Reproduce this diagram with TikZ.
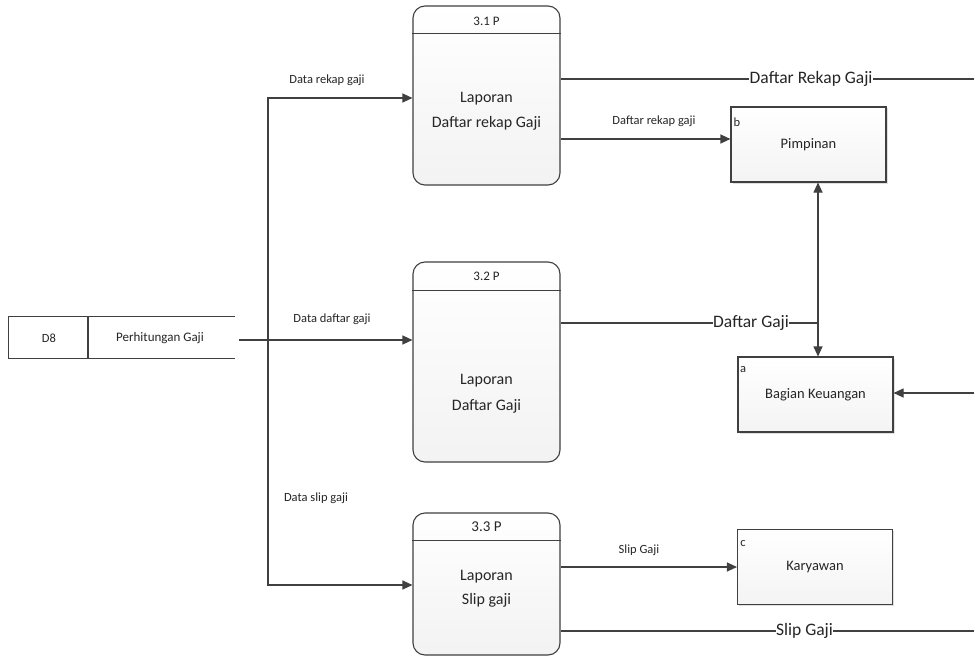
\documentclass[tikz,border=0pt]{standalone}
\usepackage{fontspec}
\setmainfont{Carlito}
\usetikzlibrary{arrows.meta,shadows}
\definecolor{ink}{HTML}{404040}
\definecolor{txt}{HTML}{262626}
\begin{document}
\begin{tikzpicture}[x=1pt,y=-1pt,
  every node/.style={text=txt},
  wire/.style={draw=ink, line width=1.1pt},
  flow/.style={wire, -{Triangle[length=10pt,width=9pt]}},
  proc/.style={draw=ink, line width=1.1pt, rounded corners=12pt,
    minimum width=147pt, minimum height=#1, inner sep=0pt,
    top color=white, bottom color=gray!10},
  ent/.style={draw=ink, line width=1.1pt, minimum width=155pt,
    minimum height=75pt, inner sep=0pt, top color=white, bottom color=gray!9,
    drop shadow={opacity=0.25, shadow xshift=1.5pt, shadow yshift=-1.5pt}},
  ptxt/.style={align=center, font=\fontsize{16}{#1}\selectfont},
  pid/.style={font=\fontsize{13}{14}\selectfont},
  etxt/.style={font=\fontsize{14.5}{16}\selectfont},
  tag/.style={font=\fontsize{12.5}{14}\selectfont},
  small/.style={font=\fontsize{12.5}{14}\selectfont},
  big/.style={font=\fontsize{17.5}{19}\selectfont, fill=white, inner sep=0.5pt},
]
\useasboundingbox[fill=white] (0,0) rectangle (974,658);

% processes
\node[proc=179pt] (p31) at (486.5,95.5) {};
\node[proc=200pt] (p32) at (486.5,362) {};
\node[proc=142pt] (p33) at (486.5,584) {};
\draw[wire] ([yshift=-28pt]p31.north west) -- ([yshift=-28pt]p31.north east);
\draw[wire] ([yshift=-29pt]p32.north west) -- ([yshift=-29pt]p32.north east);
\draw[wire] ([yshift=-28pt]p33.north west) -- ([yshift=-28pt]p33.north east);
\node[pid] (h31) at (486.5,21) {3.1 P};
\node[pid] (h32) at (486.5,276) {3.2 P};
\node[pid, font=\fontsize{15}{16}\selectfont] (h33) at (486.5,527) {3.3 P};
\node[ptxt=25pt] (t31) at (486.5,111) {Laporan\\Daftar rekap Gaji};
\node[ptxt=26pt] (t32) at (486.5,394) {Laporan\\Daftar Gaji};
\node[ptxt=24pt] (t33) at (486.5,589) {Laporan\\Slip gaji};

% external entities
\node[ent] (pim) at (808.5,144.5) {};
\node[ent] (bag) at (815.5,394.5) {};
\node[ent] (kar) at (815,567) {};
\node[etxt] (npim) at (pim) {Pimpinan};
\node[etxt] (nbag) at (bag) {Bagian Keuangan};
\node[etxt] (nkar) at (kar) {Karyawan};
\node[tag] (lb) at (737,122) {b};
\node[tag] (la) at (743,370) {a};
\node[tag] (lc) at (743,544) {c};

% data store
\node[minimum width=226pt, minimum height=41pt, inner sep=0pt] (st) at (122,337.5) {};
\draw[wire] (st.north east) -- (st.north west) -- (st.south west) -- (st.south east);
\draw[wire] (st.north west -| 88,0) -- (st.south west -| 88,0);
\node[font=\fontsize{12.5}{14}\selectfont] (sid) at (49,338) {D8};
\node[font=\fontsize{13}{14}\selectfont] (sname) at (160,338) {Perhitungan Gaji};

% flows from the store
\coordinate (bus) at (268,340);
\draw[wire] ([xshift=4pt]st.east |- bus) -- (bus);
\draw[flow] (bus) -- (p32.west |- bus);
\draw[flow] (bus) |- (p31.west |- 0,98);
\draw[flow] (bus) |- (p33.west |- 0,585);
\node[small] (f1) at (327,80) {Data rekap gaji};
\node[small] (f2) at (332,319) {Data daftar gaji};
\node[small] (f3) at (316,498) {Data slip gaji};

% outputs of 3.1
\coordinate (e1) at (974,79);
\draw[wire] (p31.east |- e1) -- node[big, pos=0.606] {Daftar Rekap Gaji} (e1);
\draw[flow] (p31.east |- 0,139) -- (pim.west |- 0,139);
\node[small] (f4) at (654,121) {Daftar rekap gaji};

% outputs of 3.2
\coordinate (j) at (818,323);
\draw[wire] (p32.east |- j) -- node[big, pos=0.74] {Daftar Gaji} (j);
\draw[flow] (j) -- (j |- pim.south);
\draw[flow] (j) -- (j |- bag.north);
\coordinate (e2) at (974,393);
\draw[flow] (e2) -- (bag.east |- e2);

% outputs of 3.3
\draw[flow] (p33.east |- 0,567) -- (kar.west |- 0,567);
\node[small] (f5) at (639,550) {Slip Gaji};
\coordinate (e3) at (974,631);
\draw[wire] (p33.east |- e3) -- node[big, pos=0.59] {Slip Gaji} (e3);
\end{tikzpicture}
\end{document}
